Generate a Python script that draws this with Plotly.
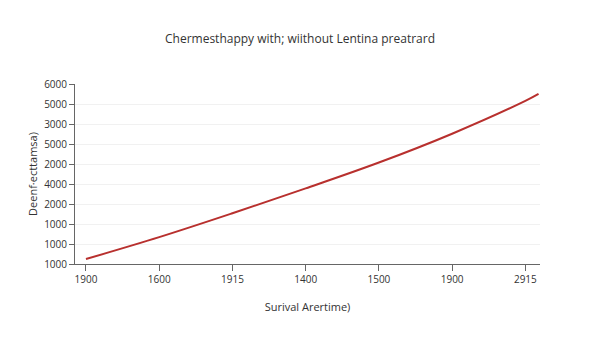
import plotly.graph_objects as go

x_ticks = ["1900", "1600", "1915", "1400", "1500", "1900", "2915"]
y_ticks = ["1000", "1000", "1000", "2000", "4000", "2000", "5000", "3000", "5000", "6000"]

x_vals = [0, 1, 2, 3, 4, 5, 6, 6.18]
y_vals = [0.25, 1.35, 2.55, 3.8, 5.1, 6.55, 8.2, 8.55]

fig = go.Figure()
fig.add_trace(go.Scatter(x=x_vals, y=y_vals, mode="lines",
                         line=dict(color="#b8302e", width=2, shape="spline"),
                         hoverinfo="skip"))

fig.update_layout(
    width=600, height=338,
    margin=dict(l=75, r=60, t=84, b=74),
    paper_bgcolor="white", plot_bgcolor="white",
    showlegend=False,
    font=dict(family="Open Sans, Noto Sans, sans-serif", color="#333", size=10),
    title=dict(text="Chermesthappy with; wiithout Lentina preatrard",
               x=0.5, xanchor="center", y=0.885, yanchor="middle",
               font=dict(size=12, color="#333")),
    xaxis=dict(range=[-0.15, 6.2], tickmode="array",
               tickvals=list(range(len(x_ticks))), ticktext=x_ticks,
               showgrid=False, zeroline=False, showline=True,
               linecolor="#666", linewidth=1, ticks="outside",
               ticklen=6, tickcolor="#666",
               title=dict(text="Surival Arertime)", font=dict(size=11, color="#333"),
                          standoff=18)),
    yaxis=dict(range=[0, 9.05], tickmode="array",
               tickvals=list(range(len(y_ticks))), ticktext=y_ticks,
               showgrid=True, gridcolor="#f1f1f1", zeroline=False,
               showline=True, linecolor="#666", linewidth=1,
               ticks="outside", ticklen=5, tickcolor="#666",
               title=dict(text="Deenf·ecttamsa)", font=dict(size=11, color="#333"),
                          standoff=4)),
)

fig.write_html("out.html")
